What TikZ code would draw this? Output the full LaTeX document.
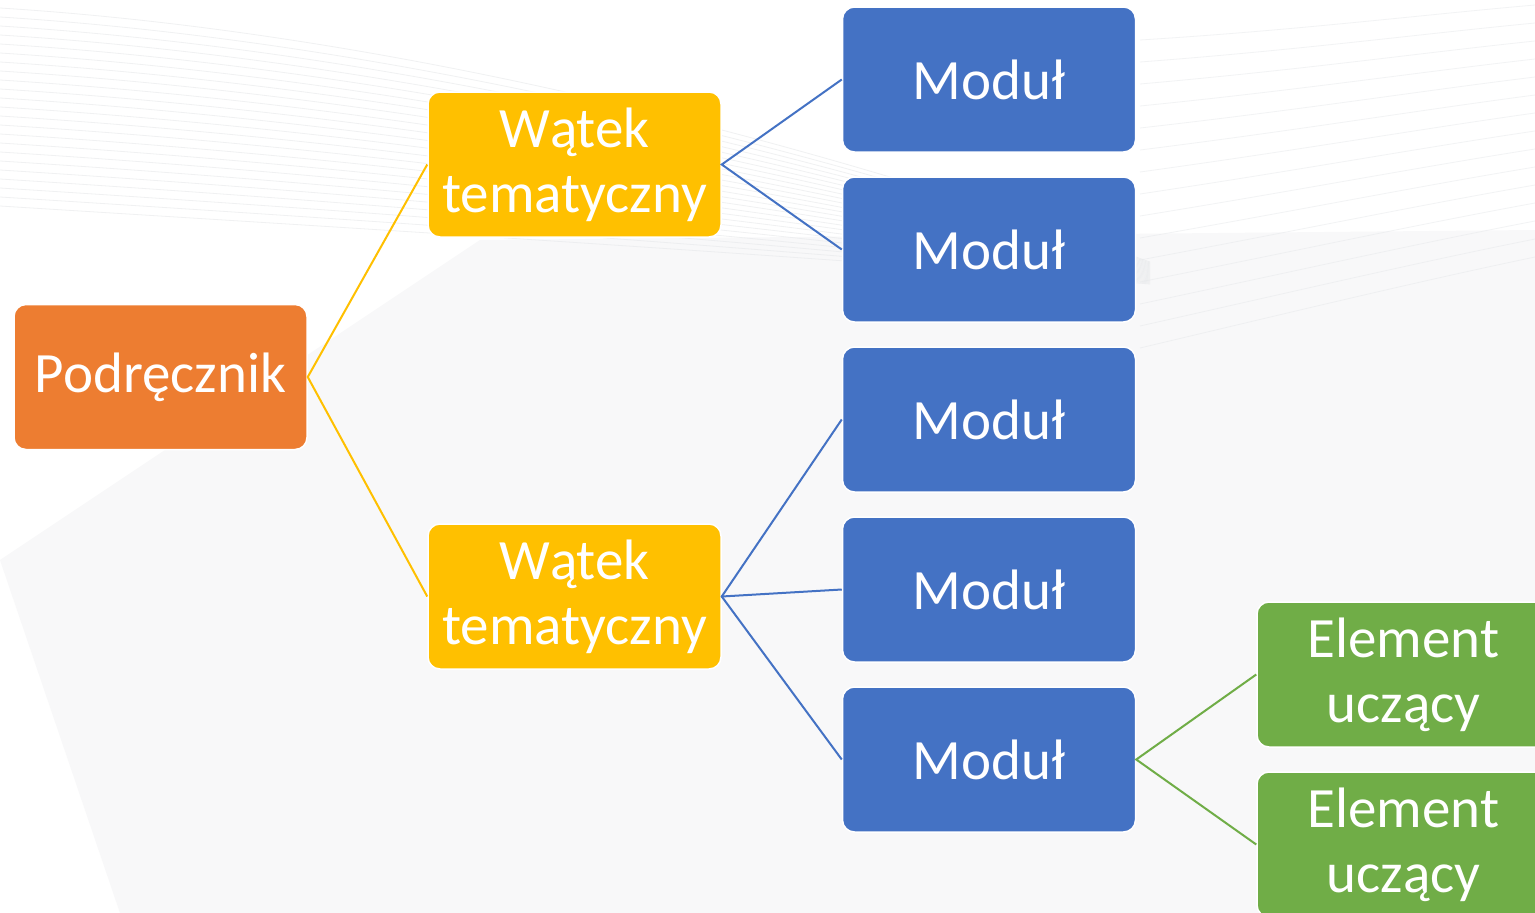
\documentclass[tikz,border=0pt]{standalone}
\usepackage{fontspec}
\setmainfont{Carlito}
\definecolor{corange}{HTML}{ED7D31}
\definecolor{cyellow}{HTML}{FFC000}
\definecolor{cblue}{HTML}{4472C4}
\definecolor{cgreen}{HTML}{70AD47}
\definecolor{bgstreak}{HTML}{E6E8EA}
\definecolor{bgshade}{HTML}{F8F8F9}
\begin{document}
\begin{tikzpicture}[x=1pt,y=-1pt,
  box/.style={rectangle, rounded corners=12pt, draw=white, line width=1.5pt,
    minimum width=293pt, minimum height=145pt, inner sep=0pt,
    text=white, align=center, font=\fontsize{57}{65}\selectfont},
  obox/.style={box, fill=corange},
  ybox/.style={box, fill=cyellow},
  bbox/.style={box, fill=cblue},
  gbox/.style={box, fill=cgreen},
  link/.style={line width=2pt}]
\useasboundingbox (0,0) rectangle (1535,913);
\fill[white] (0,0) rectangle (1535,913);
% faint background
\fill[bgshade] (0,560) -- (480,240) -- (1535,230) -- (1535,913) -- (120,913) -- cycle;
\foreach \i in {0,...,22} {
  \draw[bgstreak, line width=0.8pt, opacity=0.6]
    (0,{8+\i*9}) .. controls (350,{30+\i*9}) and (750,{120+\i*6}) .. (1150,{262+\i*1});
}
\foreach \i in {0,...,14} {
  \draw[bgstreak, line width=0.8pt, opacity=0.5]
    (1140,{40+\i*22}) .. controls (1300,{30+\i*20}) and (1420,{15+\i*19}) .. (1535,{5+\i*18});
}
% nodes
\node[obox] (P) at (160.5,377) {Podręcznik};
\node[ybox] (W1) at (574.5,164.5) {Wątek\\tematyczny};
\node[ybox] (W2) at (574.5,596.5) {Wątek\\tematyczny};
\node[bbox] (M1) at (989,79.5) {Moduł};
\node[bbox] (M2) at (989,249.5) {Moduł};
\node[bbox] (M3) at (989,419.5) {Moduł};
\node[bbox] (M4) at (989,589.5) {Moduł};
\node[bbox] (M5) at (989,759.5) {Moduł};
\node[gbox] (E1) at (1403.5,674.5) {Element\\uczący};
\node[gbox] (E2) at (1403.5,844.5) {Element\\uczący};
% connectors
\draw[link, cyellow] (W1.west) -- (P.east) -- (W2.west);
\draw[link, cblue] (M1.west) -- (W1.east) -- (M2.west);
\draw[link, cblue] (M3.west) -- (W2.east) -- (M5.west);
\draw[link, cblue] (W2.east) -- (M4.west);
\draw[link, cgreen] (E1.west) -- (M5.east) -- (E2.west);
\end{tikzpicture}
\end{document}
